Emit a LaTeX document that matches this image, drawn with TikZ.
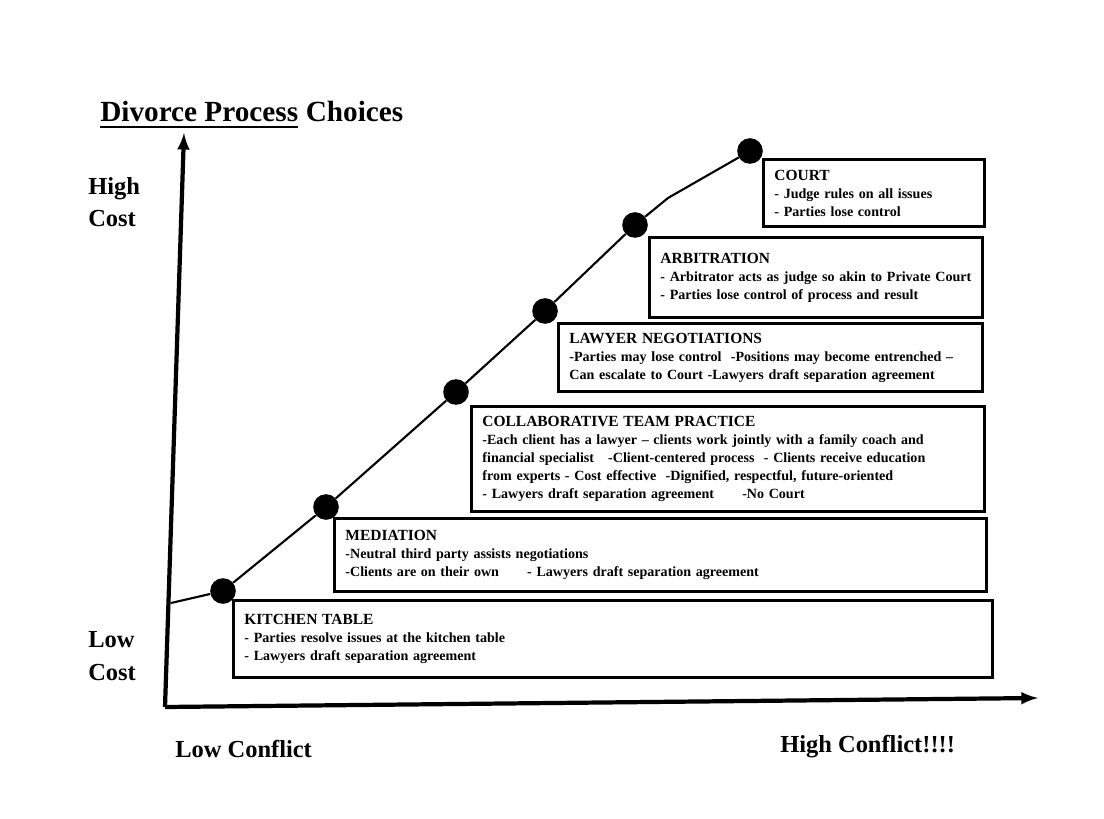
\documentclass[tikz,border=0pt]{standalone}
\usepackage{fontspec}
\setmainfont{Liberation Serif}
\usetikzlibrary{arrows}

\newcommand{\stagehead}[1]{{\fontsize{11}{12.8}\selectfont #1}}

\begin{document}
\begin{tikzpicture}[x=0.025cm, y=-0.025cm,
	stage/.style={draw, line width=2.3pt, anchor=north west, align=left, inner xsep=0.27cm,
		font=\fontsize{10}{12.8}\selectfont\bfseries},
	axislabel/.style={font=\fontsize{17.4}{23}\selectfont\bfseries, align=left, inner sep=0pt},
	stop/.style={circle, fill=black, inner sep=0pt, minimum size=0.64cm}]

	\useasboundingbox (0,0) rectangle (1104,819);

	% title
	\node [anchor=base west, inner sep=0pt, font=\fontsize{20.8}{24}\selectfont\bfseries] (titleleft) at (100,122) {Divorce Process};
	\node [anchor=base west, inner sep=0pt, font=\fontsize{20.8}{24}\selectfont\bfseries, xshift=5pt] (titleright) at (titleleft.base east) {Choices};
	\draw [line width=2pt] (100,127) -- (titleleft.base east |- 0,127);

	% axes
	\coordinate (origin) at (165,707);
	\coordinate (ytop) at (184,133);
	\coordinate (xend) at (1038,698);
	\draw [arrows={-latex}, line width=3pt] (origin) -- (ytop);
	\draw [arrows={-latex}, line width=3pt] (origin) -- (xend);

	\node [axislabel, anchor=west] (highcost) at (88,202) {High\\Cost};
	\node [axislabel, anchor=west] (lowcost) at (88,656) {Low\\Cost};
	\node [axislabel, anchor=base west] (lowconflict) at (175,757) {Low Conflict};
	\node [axislabel, anchor=base west] (highconflict) at (780,752) {High Conflict!!!!};

	% boxes
	\node [stage, text width=4.975cm, minimum height=1.675cm] (court) at (762,158)
		{\stagehead{COURT}\\- Judge rules on all issues\\- Parties lose control};
	\node [stage, text width=7.775cm, minimum height=2.0cm] (arbitration) at (648,236)
		{\stagehead{ARBITRATION}\\- Arbitrator acts as judge so akin to Private Court\\- Parties lose control of process and result};
	\node [stage, text width=10.05cm, minimum height=1.7cm] (lawyer) at (557,322)
		{\stagehead{LAWYER NEGOTIATIONS}\\-Parties may lose control\ \ -Positions may become entrenched --\\Can escalate to Court -Lawyers draft separation agreement};
	\node [stage, text width=12.275cm, minimum height=2.625cm] (collab) at (470,405)
		{\stagehead{COLLABORATIVE TEAM PRACTICE}\\-Each client has a lawyer -- clients work jointly with a family coach and\\financial specialist\quad -Client-centered process\ \ - Clients receive education\\from experts - Cost effective\ \ -Dignified, respectful, future-oriented\\- Lawyers draft separation agreement\qquad -No Court};
	\node [stage, text width=15.75cm, minimum height=1.825cm] (mediation) at (333,517)
		{\stagehead{MEDIATION}\\-Neutral third party assists negotiations\\-Clients are on their own\qquad - Lawyers draft separation agreement};
	\node [stage, text width=18.425cm, minimum height=1.925cm] (kitchen) at (232,599)
		{\stagehead{KITCHEN TABLE}\\- Parties resolve issues at the kitchen table\\- Lawyers draft separation agreement};

	% cost curve
	\coordinate (start) at (171,603);
	\node [stop] (kitchenstop) at (223,591) {};
	\node [stop] (mediationstop) at (326,507) {};
	\node [stop] (collabstop) at (456,392) {};
	\node [stop] (lawyerstop) at (545,311) {};
	\node [stop] (arbitrationstop) at (635,225) {};
	\coordinate (bend) at (668,198);
	\node [stop] (courtstop) at (750,151) {};
	\draw [line width=1.5pt] (start) -- (kitchenstop) -- (mediationstop) -- (collabstop) -- (lawyerstop) -- (arbitrationstop) -- (bend) -- (courtstop);

\end{tikzpicture}
\end{document}
